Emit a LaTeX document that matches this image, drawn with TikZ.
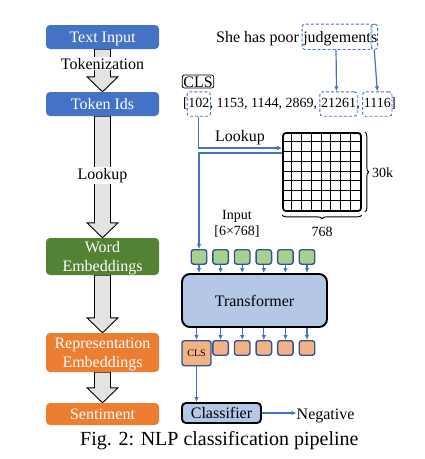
\documentclass[tikz,border=0pt]{standalone}
\usepackage{fontspec}
\setmainfont{Liberation Serif}
\usetikzlibrary{arrows.meta,calc,fit,decorations.pathreplacing}
\definecolor{cblue}{HTML}{4472C4}
\definecolor{cgreen}{HTML}{548235}
\definecolor{corange}{HTML}{ED7D31}
\definecolor{lblue}{HTML}{B4C7E7}
\definecolor{lgreen}{HTML}{A9D18E}
\definecolor{lorange}{HTML}{F4B183}
\definecolor{dblue}{HTML}{2F5597}
\definecolor{agray}{HTML}{E3E3E3}
\newcommand\fsA{\fontsize{16pt}{19.3pt}\selectfont}
\newcommand\fsB{\fontsize{14pt}{16pt}\selectfont}
\newcommand\fsC{\fontsize{20pt}{24pt}\selectfont}
\newcommand\fsD{\fontsize{10pt}{12pt}\selectfont}
\pgfdeclarelayer{bg}
\pgfsetlayers{bg,main}
\tikzset{
  lbox/.style={rounded corners=4pt, minimum width=113pt, text=white, font=\fsA, align=center, inner sep=0pt},
  onel/.style={text height=11pt, text depth=0pt},
  twol/.style={text depth=0pt},
  garrow/.style={fill=agray, draw=black, line width=0.9pt, line join=miter},
  glabel/.style={fill=white, inner sep=1pt, font=\fsA, anchor=base},
  txt/.style={font=\fsA, inner sep=0pt},
  stxt/.style={font=\fsB, inner sep=0pt},
  tok/.style={font=\fsB, inner sep=0pt, anchor=base west, text height=13.5pt, text depth=6.5pt},
  stok/.style={font=\fsA, inner sep=0pt, anchor=base west, text height=16pt, text depth=5pt},
  dbox/.style={draw=cblue, dash pattern=on 3pt off 2pt, rounded corners=3pt, line width=0.9pt, inner ysep=2pt, inner xsep=1pt},
  barrow/.style={draw=cblue, line width=1.2pt, -{Latex[length=5pt,width=4.5pt]}},
  sq/.style={draw=dblue, line width=1.4pt, rounded corners=2.5pt, minimum width=15.5pt, minimum height=14.5pt, inner sep=0pt},
  bigbox/.style={fill=lblue, draw=black, line width=1.9pt, font=\fsA, inner sep=0pt, text height=11pt, text depth=0pt},
  bracestyle/.style={decorate, decoration={brace, amplitude=4pt}, line width=0.9pt},
}
\newcommand\garr[2]{%
  \draw[garrow] ($(#1.south)+(-8,0)$) -- ($(#2.north)+(-8,-15)$) -- ($(#2.north)+(-15.5,-15)$)
    -- (#2.north) -- ($(#2.north)+(15.5,-15)$) -- ($(#2.north)+(8,-15)$) -- ($(#1.south)+(8,0)$) -- cycle;}
\begin{document}
\begin{tikzpicture}[x=1pt,y=-1pt]
\useasboundingbox (0,0) rectangle (425,459);

% ---------- left column ----------
\node[lbox, onel, fill=cblue, minimum height=24pt] (ti) at (102.5,37) {Text Input};
\node[lbox, onel, fill=cblue, minimum height=24pt] (tid) at (102.5,104) {Token Ids};
\node[lbox, twol, fill=cgreen, minimum height=37pt] (we) at (102.5,256.5) {Word\\Embeddings};
\node[lbox, twol, fill=corange, minimum height=39pt] (re) at (102.5,352.5) {Representation\\Embeddings};
\node[lbox, onel, fill=corange, minimum height=22pt] (se) at (102.5,414) {Sentiment};
\begin{pgfonlayer}{bg}
\garr{ti}{tid}
\garr{tid}{we}
\garr{we}{re}
\garr{re}{se}
\end{pgfonlayer}
\node[glabel] (tokl) at (102.5,69) {Tokenization};
\node[glabel] (lk1) at (102.5,179.3) {Lookup};

% ---------- sentence ----------
\node[stok] (sh) at (216,42.3) {She has poor\kern4pt};
\node[stok] (jw) at (sh.base east) {judgement};
\node[stok] (sw) at (jw.base east) {s};
\node[dbox, fit=(jw)] (jbox) {};
\node[dbox, inner xsep=0pt, fit=(sw)] (sbox) {};

% ---------- token ids ----------
\node[draw, rounded corners=2pt, line width=0.8pt, inner xsep=1pt, inner ysep=1pt, font=\fsA, text height=11pt, text depth=0pt] (clsl) at (198,81.5) {CLS};
\node[tok] (lb) at (183,107.5) {[};
\node[tok] (t1) at (lb.base east) {102};
\node[tok] (mid) at (t1.base east) {,\kern3.5pt 1153, 1144, 2869,\kern3.5pt};
\node[tok] (t5) at (mid.base east) {21261};
\node[tok] (cm) at (t5.base east) {,\kern3.5pt};
\node[tok] (t6) at (cm.base east) {1116};
\node[tok] (rb) at (t6.base east) {]};
\node[dbox, fit=(t1)] (b1) {};
\node[dbox, fit=(t5)] (b5) {};
\node[dbox, fit=(t6)] (b6) {};
\draw[barrow] ([xshift=-1pt]jbox.south) -- ([xshift=-2pt]b5.north);
\draw[barrow] (sbox.south) -- (b6.north);

% ---------- embedding matrix ----------
\node[draw, line width=1.7pt, rounded corners=3pt, minimum width=78pt, minimum height=78pt, inner sep=0pt] (grid) at (322,172) {};
\foreach \i in {1,...,7} {
  \draw[line width=1pt] ($(grid.north west)+(\i*9.75,0)$) -- ($(grid.south west)+(\i*9.75,0)$);
  \draw[line width=1pt] ($(grid.north west)+(0,\i*9.75)$) -- ($(grid.north east)+(0,\i*9.75)$);
}
\draw[bracestyle] ($(grid.north east)+(3,0)$) -- ($(grid.south east)+(3,0)$);
\draw[bracestyle] ($(grid.south east)+(0,3)$) -- ($(grid.south west)+(0,3)$);
\node[stxt, anchor=base west] (k30) at (372,177.5) {30k};
\node[stxt, anchor=base] (n768) at (322,236.5) {768};

\node[txt, anchor=base] (lk2) at (240,141.5) {Lookup};
\coordinate (gout) at ($(grid.west)+(0,-19)$);
\draw[barrow] (b1.south) |- ($(grid.west)+(0,-24)$);

\node[stxt, anchor=base] (inl) at (237,219.5) {Input};
\node[stxt, anchor=base] (inl2) at (237,235.5) {[6×768]};

% ---------- transformer ----------
\foreach \i/\x in {1/199,2/220.6,3/242.2,4/263.8,5/285.4,6/307} {
  \node[sq, fill=lgreen, anchor=north] (g\i) at (\x,249) {};
}
\draw[barrow] (gout) -| (g1.north);
\node[bigbox, rounded corners=8pt, minimum width=145pt, minimum height=53pt] (tr) at (254.5,300.5) {Transformer};
\foreach \i in {1,...,6} {
  \draw[barrow] (g\i.south) -- (g\i.south |- tr.north);
}
\node[sq, fill=lorange, anchor=north, minimum width=29pt, minimum height=25pt, font=\fsD] (cls) at (196.5,340) {CLS};
\foreach \i/\x in {2/220.6,3/242.2,4/263.8,5/285.4,6/307} {
  \node[sq, fill=lorange, anchor=north] (o\i) at (\x,340) {};
  \draw[barrow] (o\i.north |- tr.south) -- (o\i.north);
}
\draw[barrow] (cls.north |- tr.south) -- (cls.north);

% ---------- classifier ----------
\node[bigbox, rounded corners=4pt, minimum width=79pt, minimum height=20pt] (cl) at (221.5,413) {Classifier};
\draw[barrow] (cls.south) -- (cls.south |- cl.north);
\node[txt, anchor=base west] (neg) at (296.5,419.5) {Negative};
\draw[barrow] (cl.east) -- (cl.east -| neg.west);

% ---------- caption ----------
\node[font=\fsC, inner sep=0pt, anchor=base west] (cap) at (80,445) {Fig. 2: NLP classification pipeline};
\end{tikzpicture}
\end{document}
